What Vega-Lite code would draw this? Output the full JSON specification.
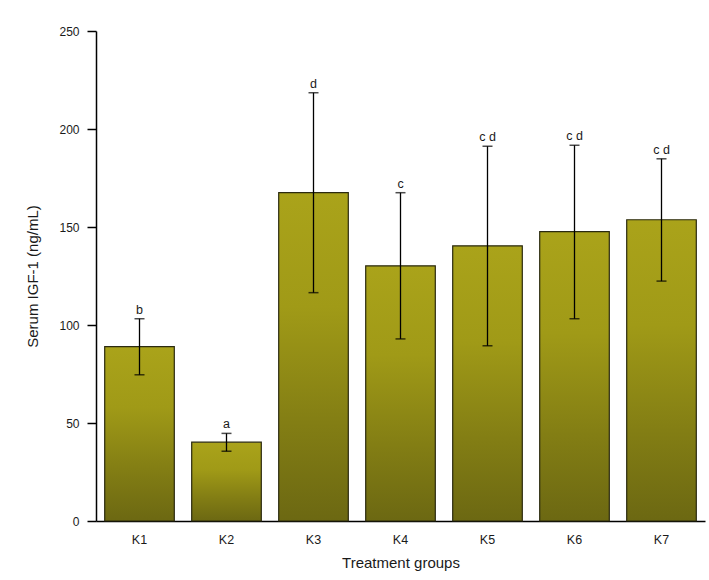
{
  "$schema": "https://vega.github.io/schema/vega-lite/v6.json",
  "width": 609,
  "height": 490,
  "autosize": {"type": "none"},
  "padding": {"left": 96, "top": 31, "right": 4, "bottom": 59},
  "background": "white",
  "config": {
    "view": {"stroke": null},
    "font": "Liberation Sans",
    "axis": {"labelFont": "Liberation Sans", "titleFont": "Liberation Sans", "labelColor": "#1a1a1a", "titleColor": "#1a1a1a", "titleFontWeight": "normal", "domainColor": "#000", "domainWidth": 1.5, "grid": false}
  },
  "data": {
    "values": [
      {"group": "K1", "mean": 89.0, "lo": 74.6, "hi": 103.2, "letter": "b"},
      {"group": "K2", "mean": 40.2, "lo": 35.6, "hi": 44.7, "letter": "a"},
      {"group": "K3", "mean": 167.5, "lo": 116.5, "hi": 218.5, "letter": "d"},
      {"group": "K4", "mean": 130.2, "lo": 92.9, "hi": 167.5, "letter": "c"},
      {"group": "K5", "mean": 140.4, "lo": 89.4, "hi": 191.2, "letter": "c d"},
      {"group": "K6", "mean": 147.6, "lo": 103.2, "hi": 191.7, "letter": "c d"},
      {"group": "K7", "mean": 153.7, "lo": 122.4, "hi": 184.8, "letter": "c d"}
    ]
  },
  "encoding": {
    "x": {
      "field": "group",
      "type": "nominal",
      "scale": {"paddingInner": 0.2, "paddingOuter": 0.1},
      "axis": {"title": "Treatment groups", "labelAngle": 0, "ticks": false, "tickSize": 0, "labelPadding": 12, "labelFontSize": 12.5, "titleFontSize": 15, "titlePadding": 10}
    }
  },
  "layer": [
    {
      "mark": {
        "type": "bar",
        "fill": {
          "gradient": "linear",
          "x1": 0, "y1": 0, "x2": 0, "y2": 1,
          "stops": [
            {"offset": 0, "color": "#aaa31a"},
            {"offset": 0.35, "color": "#a09a17"},
            {"offset": 0.7, "color": "#837e14"},
            {"offset": 1, "color": "#6c6812"}
          ]
        },
        "stroke": "#2b2a10",
        "strokeWidth": 1.2
      },
      "encoding": {
        "y": {
          "field": "mean",
          "type": "quantitative",
          "title": "Serum IGF-1 (ng/mL)",
          "scale": {"domain": [0, 250], "nice": false},
          "axis": {"values": [0, 50, 100, 150, 200, 250], "tickSize": 9, "tickWidth": 1.5, "tickColor": "#000", "labelPadding": 8, "labelFontSize": 12, "titleFontSize": 15, "titlePadding": 18}
        }
      }
    },
    {
      "mark": {"type": "rule", "color": "#000", "strokeWidth": 1.3},
      "encoding": {
        "y": {"field": "lo", "type": "quantitative", "title": "Serum IGF-1 (ng/mL)"},
        "y2": {"field": "hi"}
      }
    },
    {
      "mark": {"type": "tick", "color": "#000", "thickness": 1.5, "size": 10},
      "encoding": {"y": {"field": "hi", "type": "quantitative", "title": "Serum IGF-1 (ng/mL)"}}
    },
    {
      "mark": {"type": "tick", "color": "#000", "thickness": 1.5, "size": 10},
      "encoding": {"y": {"field": "lo", "type": "quantitative", "title": "Serum IGF-1 (ng/mL)"}}
    },
    {
      "mark": {"type": "text", "baseline": "alphabetic", "dy": -5, "fontSize": 12.5, "color": "#1a1a1a", "font": "Liberation Sans"},
      "encoding": {
        "y": {"field": "hi", "type": "quantitative", "title": "Serum IGF-1 (ng/mL)"},
        "text": {"field": "letter"}
      }
    }
  ]
}
